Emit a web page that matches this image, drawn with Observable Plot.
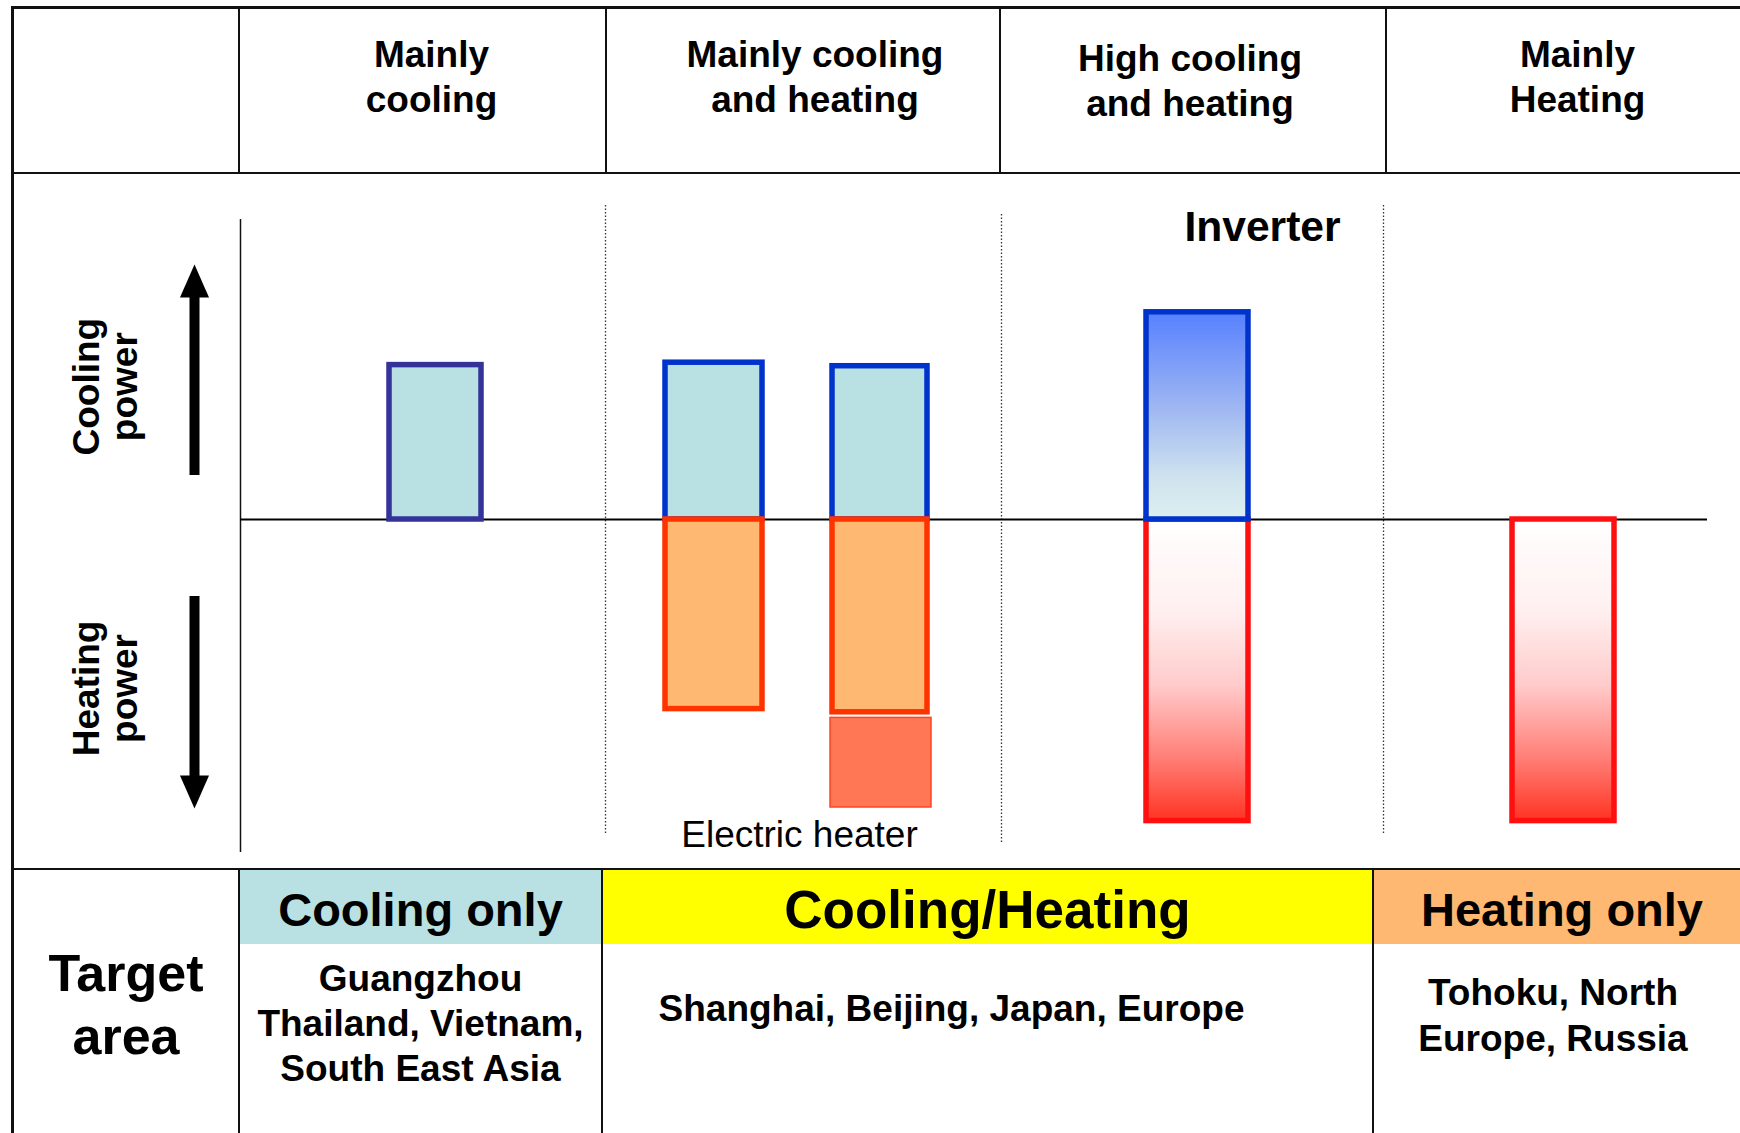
<!DOCTYPE html>
<html>
<head>
<meta charset="utf-8">
<script src="https://cdn.jsdelivr.net/npm/d3@7"></script>
<script src="https://cdn.jsdelivr.net/npm/@observablehq/plot@0.6"></script>
<style>
html, body { margin: 0; padding: 0; background: #fff; }
body { width: 1740px; height: 1133px; overflow: hidden; position: relative;
  font-family: "Liberation Sans", Arial, Helvetica, sans-serif; color: #000; }
#wrap { position: absolute; left: 11px; top: 6px; width: 1729px; height: 1127px;
  border-left: 3px solid #111; border-top: 3px solid #111; box-sizing: border-box; }
.row { display: grid; box-sizing: border-box; }
#header { grid-template-columns: 226px 367px 394px 386px 353px; height: 165px; border-bottom: 2px solid #111; }
#header > div { border-right: 2px solid #111; text-align: center; font-weight: bold; font-size: 37px;
  line-height: 45px; padding-top: 23px; box-sizing: border-box; white-space: pre-line; }
#header > div:last-child { border-right: none; }
#chart { height: 694px; }
#chart svg { display: block; }
#footer { grid-template-columns: 226px 363px 771px 366px; height: 265px; border-top: 2px solid #111; }
#footer > div { border-right: 2px solid #111; box-sizing: border-box; }
#footer > div:last-child { border-right: none; }
.band { height: 74px; font-weight: bold; font-size: 47px; line-height: 80px; text-align: center; white-space: nowrap; }
.area { font-weight: bold; font-size: 37px; line-height: 45px; text-align: center; white-space: pre-line; }
.target { font-weight: bold; font-size: 52px; line-height: 63px; text-align: center; padding-top: 72px; white-space: pre-line; }
</style>
</head>
<body>
<div id="wrap">
  <div id="header" class="row"></div>
  <div id="chart"></div>
  <div id="footer" class="row"></div>
</div>
<script>
// ---------- data ----------
const categories = ["Mainly cooling", "Mainly cooling and heating", "High cooling and heating", "Mainly Heating"];
const headerLabels = ["Mainly\ncooling", "Mainly cooling\nand heating", "High cooling\nand heating", "Mainly\nHeating"];

const barIds = ["mc", "mch1", "mch2", "inv", "mh"];
const barCategory = [categories[0], categories[1], categories[1], categories[2], categories[3]];
const coolingPower = [0.965, 0.98, 0.958, 1.295, 0];
const heatingPower = [0, 1.185, 1.205, 1.885, 1.885];
const electricHeater = [0, 0, 0.56, 0, 0];

const powerLabels = ["Cooling power", "Heating power"];
const powerArrowFrom = [0.275, -0.481];
const powerArrowTo = [1.594, -1.806];
const powerLabelAt = [0.83, -1.056];

const notes = ["Inverter", "Electric heater"];

const targetTitle = "Target\narea";
const targetTypes = ["Cooling only", "Cooling/Heating", "Heating only"];
const targetAreas = ["Guangzhou\nThailand, Vietnam,\nSouth East Asia", "Shanghai, Beijing, Japan, Europe", "Tohoku, North\nEurope, Russia"];

// ---------- header / footer (HTML) ----------
const header = document.getElementById("header");
header.appendChild(document.createElement("div"));
const headerShift = [18, 24, -6, 28];
headerLabels.forEach((t, i) => {
  const d = document.createElement("div");
  d.textContent = t;
  if (i === 2) d.style.paddingTop = "27px";
  if (headerShift[i] > 0) d.style.paddingLeft = headerShift[i] + "px";
  else d.style.paddingRight = (-headerShift[i]) + "px";
  header.appendChild(d);
});

const footer = document.getElementById("footer");
const bandColors = ["#B9E0E3", "#FFFF00", "#FFB871"];
const bandFont = ["47px", "53px", "47px"];
const areaPad = ["12px", "42px", "26px"];
const t0 = document.createElement("div");
t0.className = "target"; t0.textContent = targetTitle;
footer.appendChild(t0);
targetTypes.forEach((t, i) => {
  const cell = document.createElement("div");
  const band = document.createElement("div");
  band.className = "band"; band.textContent = t;
  band.style.background = bandColors[i]; band.style.fontSize = bandFont[i];
  if (i === 2) band.style.paddingLeft = "10px";
  const area = document.createElement("div");
  area.className = "area"; area.textContent = targetAreas[i];
  area.style.paddingTop = areaPad[i];
  if (i === 1) area.style.paddingRight = "72px";
  if (i === 2) { area.style.lineHeight = "46px"; area.style.paddingRight = "8px"; }
  cell.appendChild(band); cell.appendChild(area);
  footer.appendChild(cell);
});

// ---------- chart (Plot) ----------
const bars = barIds.map((id, i) => ({id, category: barCategory[i], cool: coolingPower[i], heat: heatingPower[i], elec: electricHeater[i]}));
const arrows = powerLabels.map((label, i) => ({label, from: powerArrowFrom[i], to: powerArrowTo[i], at: powerLabelAt[i]}));

const SW = 5.5;
const inset = {mc: [149, 134], mch1: [50, 228], mch2: [217, 63], inv: [156, 117], mh: [147, 126], elec: [215, 59]};
const byId = id => bars.filter(d => d.id === id);

function gradients() {
  const defs = d3.create("svg:defs");
  const g1 = defs.append("linearGradient").attr("id", "gradCool").attr("x1", 0).attr("y1", 0).attr("x2", 0).attr("y2", 1);
  [[0, "#5680FF"], [0.45, "#9DB5F2"], [0.8, "#CFE3EE"], [1, "#DDEFF0"]].forEach(([o, c]) => g1.append("stop").attr("offset", o).attr("stop-color", c));
  const g2 = defs.append("linearGradient").attr("id", "gradHeat").attr("x1", 0).attr("y1", 0).attr("x2", 0).attr("y2", 1);
  [[0, "#FFFFFF"], [0.3, "#FFF0F0"], [0.55, "#FFCBCB"], [0.8, "#FF7C74"], [1, "#FF3322"]].forEach(([o, c]) => g2.append("stop").attr("offset", o).attr("stop-color", c));
  return defs.node();
}

const arrowHead = {
  draw(ctx, size) {
    const h = Math.sqrt(size / Math.PI);
    ctx.moveTo(0, 0);
    ctx.lineTo(-0.44 * h, h);
    ctx.lineTo(0.44 * h, h);
    ctx.closePath();
  }
};

const coolBar = (id, fill, stroke) => Plot.barY(byId(id), {
  x: "category", y1: () => 0, y2: "cool", fill, stroke, strokeWidth: SW,
  insetLeft: inset[id][0], insetRight: inset[id][1]
});
const heatBar = (id, fill, stroke) => Plot.barY(byId(id), {
  x: "category", y1: () => 0, y2: d => -d.heat, fill, stroke, strokeWidth: SW,
  insetLeft: inset[id][0], insetRight: inset[id][1]
});

const dividerShift = [[-10, 31, 34], [11, 40, 25], [18, 31, 34]];

const chart = Plot.plot({
  width: 1726,
  height: 694,
  marginLeft: 226, marginRight: 0, marginTop: 0, marginBottom: 0,
  x: {type: "band", domain: categories, padding: 0, axis: null},
  y: {domain: [-2.18125, 2.15625], axis: null},
  style: {fontFamily: "Liberation Sans, Arial, Helvetica, sans-serif", background: "#fff", color: "#000", overflow: "visible"},
  marks: [
    gradients,
    // left axis line of chart area
    Plot.ruleX([categories[0]], {x: d => d, dx: -187.5, stroke: "#111", strokeWidth: 1.5, insetTop: 45, insetBottom: 16}),
    // dotted dividers between categories
    ...categories.slice(1).map((c, i) => Plot.ruleX([c], {
      x: d => d, dx: -187.5 + dividerShift[i][0], stroke: "#333", strokeWidth: 1.3, strokeDasharray: "1.5,2",
      insetTop: dividerShift[i][1], insetBottom: dividerShift[i][2]
    })),
    // zero line
    Plot.ruleY([0], {stroke: "#000", strokeWidth: 1.8, insetRight: 33}),
    // bars
    coolBar("mc", "#B9E0E3", "#333399"),
    coolBar("mch1", "#B9E0E3", "#0033CC"),
    coolBar("mch2", "#B9E0E3", "#0033CC"),
    heatBar("mch1", "#FFB871", "#FF3300"),
    heatBar("mch2", "#FFB871", "#FF3300"),
    Plot.barY(byId("mch2"), {
      x: "category", y1: d => -(d.heat + 0.035), y2: d => -(d.heat + 0.035 + d.elec),
      fill: "#FF7755", stroke: "#FF4422", strokeWidth: 1.5,
      insetLeft: inset.elec[0], insetRight: inset.elec[1]
    }),
    heatBar("inv", "url(#gradHeat)", "#FF1010"),
    coolBar("inv", "url(#gradCool)", "#0033CC"),
    heatBar("mh", "url(#gradHeat)", "#FF1010"),
    // power arrows
    Plot.ruleX(arrows, {
      x: () => categories[0], dx: -233.5, y1: "from", y2: d => d.to - Math.sign(d.to) * 0.15,
      stroke: "#000", strokeWidth: 10
    }),
    Plot.dot(arrows, {
      x: () => categories[0], dx: -233.5, y: "to", symbol: arrowHead, r: 33,
      fill: "#000", stroke: "none", rotate: d => d.to > 0 ? 0 : 180
    }),
    Plot.text(arrows, {
      x: () => categories[0], dx: -322.5, y: "at", text: d => d.label.replace(" ", "\n"),
      rotate: -90, fontSize: 37, fontWeight: "bold", lineHeight: 1.05, fill: "#000"
    }),
    // notes
    Plot.text([notes[0]], {x: () => categories[2], frameAnchor: "top", dx: 84.5, dy: 36, text: d => d, fontSize: 42.6, fontWeight: "bold", fill: "#000"}),
    Plot.text([notes[1]], {x: () => categories[1], frameAnchor: "bottom", dx: -3.5, dy: -21.5, text: d => d, fontSize: 37, fill: "#000"})
  ]
});
document.getElementById("chart").appendChild(chart);
</script>
</body>
</html>
